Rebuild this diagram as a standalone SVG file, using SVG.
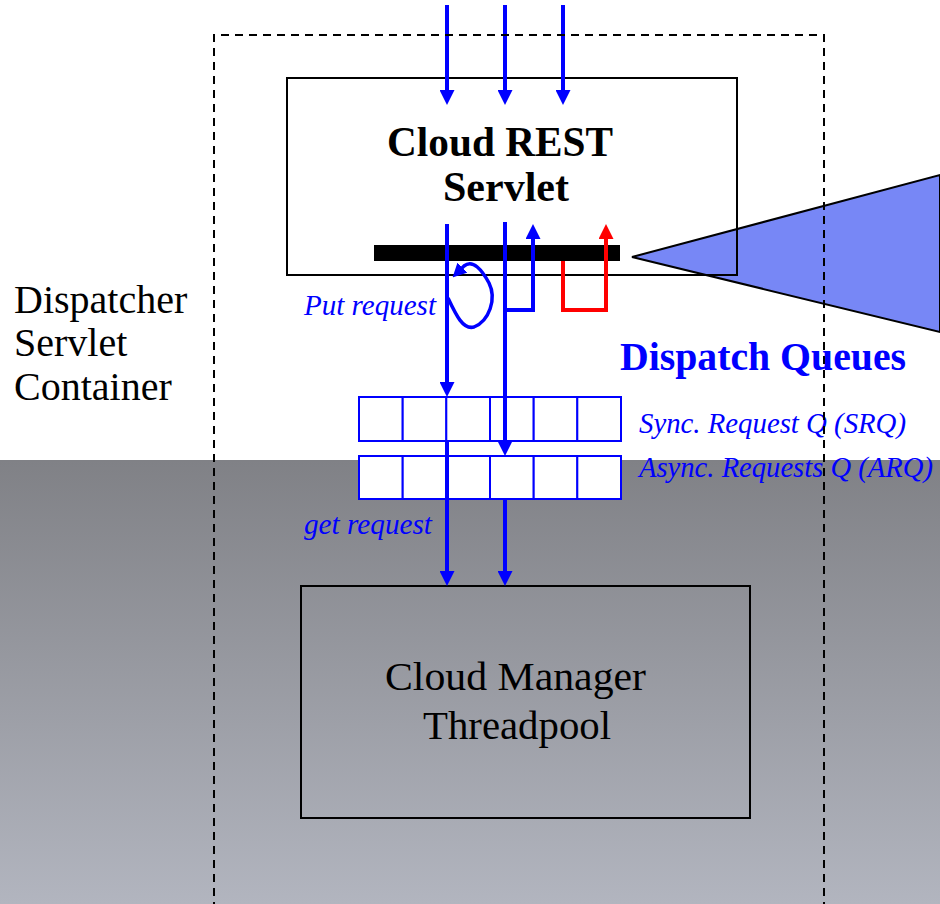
<svg xmlns="http://www.w3.org/2000/svg" width="940" height="904" viewBox="0 0 940 904">
  <defs>
    <linearGradient id="lowerShade" x1="0" y1="0" x2="0" y2="1">
      <stop offset="0" stop-color="#808186"/>
      <stop offset="1" stop-color="#b2b5bf"/>
    </linearGradient>
    <marker id="headBlue" markerUnits="userSpaceOnUse" markerWidth="15" markerHeight="15" refX="2" refY="7.5" orient="auto">
      <path d="M0,0 L15,7.5 L0,15 z" fill="#0000ff"/>
    </marker>
    <marker id="headRed" markerUnits="userSpaceOnUse" markerWidth="15" markerHeight="15" refX="2" refY="7.5" orient="auto">
      <path d="M0,0 L15,7.5 L0,15 z" fill="#ff0000"/>
    </marker>
    <marker id="headLoop" markerUnits="userSpaceOnUse" markerWidth="14" markerHeight="14" refX="2" refY="7" orient="auto">
      <path d="M0,0 L14,7 L0,14 z" fill="#0000ff"/>
    </marker>
    <style>
      .box { fill: none; stroke: #000; stroke-width: 2; }
      .cell { fill: #fff; stroke: #0000ff; stroke-width: 2; }
      .flow { fill: none; stroke: #0000ff; stroke-width: 4; }
      .flowRed { fill: none; stroke: #ff0000; stroke-width: 4; }
      .title { font-family: "Liberation Serif", "Times New Roman", serif; font-weight: bold; font-size: 43px; fill: #000; text-anchor: middle; }
      .plain { font-family: "Liberation Serif", "Times New Roman", serif; font-size: 40px; fill: #000; }
      .note { font-family: "Liberation Serif", "Times New Roman", serif; font-style: italic; font-size: 29px; fill: #0000ff; }
      .heading { font-family: "Liberation Serif", "Times New Roman", serif; font-weight: bold; font-size: 41px; fill: #0000ff; }
    </style>
  </defs>

  <!-- backdrop: white upper area, shaded lower area -->
  <rect x="0" y="0" width="940" height="904" fill="#fff"/>
  <rect x="0" y="460" width="940" height="444" fill="url(#lowerShade)"/>

  <!-- callout wedge pointing at the dispatch bar -->
  <polygon id="callout" points="632,257 940,175 940,332" fill="#7787f6" stroke="#000" stroke-width="2"/>

  <g id="container-label">
    <text class="plain" x="14" y="313" font-size="39">Dispatcher</text>
    <text class="plain" x="14" y="356" font-size="39">Servlet</text>
    <text class="plain" x="14" y="400" font-size="39">Container</text>
  </g>

  <g id="rest-servlet">
    <rect class="box" x="287" y="78" width="450" height="197"/>
    <text class="title" x="500" y="156" textLength="226" lengthAdjust="spacingAndGlyphs">Cloud REST</text>
    <text class="title" x="506" y="201" textLength="126" lengthAdjust="spacingAndGlyphs">Servlet</text>
    <rect x="374" y="245" width="246" height="16" fill="#000"/>
  </g>

  <g id="sync-queue">
    <rect class="cell" x="359" y="397" width="43.7" height="44"/>
    <rect class="cell" x="402.7" y="397" width="43.7" height="44"/>
    <rect class="cell" x="446.3" y="397" width="43.7" height="44"/>
    <rect class="cell" x="490" y="397" width="43.7" height="44"/>
    <rect class="cell" x="533.7" y="397" width="43.7" height="44"/>
    <rect class="cell" x="577.3" y="397" width="43.7" height="44"/>
    <text class="note" x="639" y="433" textLength="267" lengthAdjust="spacingAndGlyphs">Sync. Request Q (SRQ)</text>
  </g>

  <g id="async-queue">
    <rect class="cell" x="359" y="456" width="43.7" height="43"/>
    <rect class="cell" x="402.7" y="456" width="43.7" height="43"/>
    <rect class="cell" x="446.3" y="456" width="43.7" height="43"/>
    <rect class="cell" x="490" y="456" width="43.7" height="43"/>
    <rect class="cell" x="533.7" y="456" width="43.7" height="43"/>
    <rect class="cell" x="577.3" y="456" width="43.7" height="43"/>
    <text class="note" x="639" y="477" textLength="294" lengthAdjust="spacingAndGlyphs">Async. Requests Q (ARQ)</text>
  </g>

  <g id="dispatch-queues-label">
    <text class="heading" x="620" y="370" textLength="286" lengthAdjust="spacingAndGlyphs">Dispatch Queues</text>
  </g>

  <g id="threadpool">
    <rect class="box" x="301" y="586" width="449" height="232"/>
    <text class="plain" x="515.5" y="690" font-size="41" text-anchor="middle" textLength="261" lengthAdjust="spacingAndGlyphs">Cloud Manager</text>
    <text class="plain" x="517" y="739" font-size="41" text-anchor="middle" textLength="188" lengthAdjust="spacingAndGlyphs">Threadpool</text>
  </g>

  <g id="connectors">
    <!-- incoming requests -->
    <line class="flow" x1="447" y1="5" x2="447" y2="92" marker-end="url(#headBlue)"/>
    <line class="flow" x1="505" y1="5" x2="505" y2="92" marker-end="url(#headBlue)"/>
    <line class="flow" x1="563" y1="5" x2="563" y2="92" marker-end="url(#headBlue)"/>
    <!-- put into the queues -->
    <line class="flow" x1="447" y1="224" x2="447" y2="384" marker-end="url(#headBlue)"/>
    <line class="flow" x1="505" y1="222" x2="505" y2="443" marker-end="url(#headBlue)"/>
    <!-- responses back up -->
    <path class="flow" d="M505,310 L533,310 L533,237" marker-end="url(#headBlue)"/>
    <path class="flowRed" d="M563,261 L563,310 L606,310 L606,237" marker-end="url(#headRed)"/>
    <!-- put request loop -->
    <path fill="none" stroke="#0000ff" stroke-width="3.5" d="M448,298 C456,315 463,330 474,327 C489,321 497,299 489,283 C482,270 473,259 464,266 L461,269" marker-end="url(#headLoop)"/>
    <!-- take from the queues -->
    <line class="flow" x1="447" y1="441" x2="447" y2="573" marker-end="url(#headBlue)"/>
    <line class="flow" x1="505" y1="499" x2="505" y2="573" marker-end="url(#headBlue)"/>
  </g>

  <g id="flow-labels">
    <text class="note" x="304" y="315" textLength="132" lengthAdjust="spacingAndGlyphs">Put request</text>
    <text class="note" x="304" y="534" textLength="128" lengthAdjust="spacingAndGlyphs">get request</text>
  </g>

  <!-- container boundary -->
  <g id="servlet-container">
    <path d="M214,910 L214,35 L824,35 L824,910" fill="none" stroke="#000" stroke-width="2" stroke-dasharray="8 6"/>
  </g>
</svg>
